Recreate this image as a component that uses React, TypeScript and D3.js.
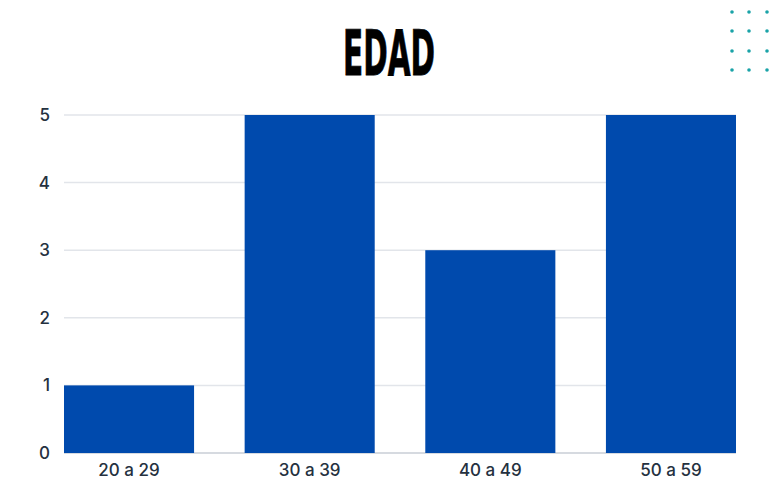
import React from "react";
import * as d3 from "d3";

const categories = ["20 a 29", "30 a 39", "40 a 49", "50 a 59"];
const values = [1, 5, 3, 5];
const yTicks = [0, 1, 2, 3, 4, 5];
const title = "EDAD";

export default function App() {
  const W = 780, H = 482;
  const left = 64, right = 736, top = 115, bottom = 453;
  const x = d3.scaleBand<string>().domain(categories).range([left, right]).paddingInner(0.28).paddingOuter(0);
  const y = d3.scaleLinear().domain([0, 5]).range([bottom, top]);
  const dotsX = [732, 749, 767];
  const dotsY = [12, 31, 51, 70];
  return (
    <svg width={W} height={H} style={{ position: "absolute", left: 0, top: 0, background: "#fff" }}>
      <rect width={W} height={H} fill="#fff" />
      {dotsY.map((dy) => dotsX.map((dx) => <circle key={dx + "-" + dy} cx={dx} cy={dy} r={1.8} fill="#1aa3a8" />))}
      <text x={389} y={75} textAnchor="middle" fontFamily="'Liberation Sans Narrow', 'DejaVu Sans Condensed', sans-serif" fontWeight={700} fontSize={62} textLength={92} lengthAdjust="spacingAndGlyphs" fill="#000" stroke="#000" strokeWidth={0.8}>{title}</text>
      {yTicks.map((t) => (
        <g key={t}>
          <line x1={left} x2={right} y1={y(t)} y2={y(t)} stroke={t === 0 ? "#c9ced6" : "#e2e5ea"} strokeWidth={1.5} />
          <text x={50} y={y(t)} dy="0.35em" textAnchor="end" fontFamily="Inter, 'Noto Sans', sans-serif" fontWeight={500} fontSize={17} fill="#25313f">{t}</text>
        </g>
      ))}
      {categories.map((c, i) => (
        <rect key={c} x={x(c)} y={y(values[i])} width={x.bandwidth()} height={y(0) - y(values[i])} fill="#004aad" />
      ))}
      {categories.map((c) => (
        <text key={c} x={(x(c) as number) + x.bandwidth() / 2} y={476} textAnchor="middle" fontFamily="Inter, 'Noto Sans', sans-serif" fontWeight={500} fontSize={17} fill="#25313f">{c}</text>
      ))}
    </svg>
  );
}
